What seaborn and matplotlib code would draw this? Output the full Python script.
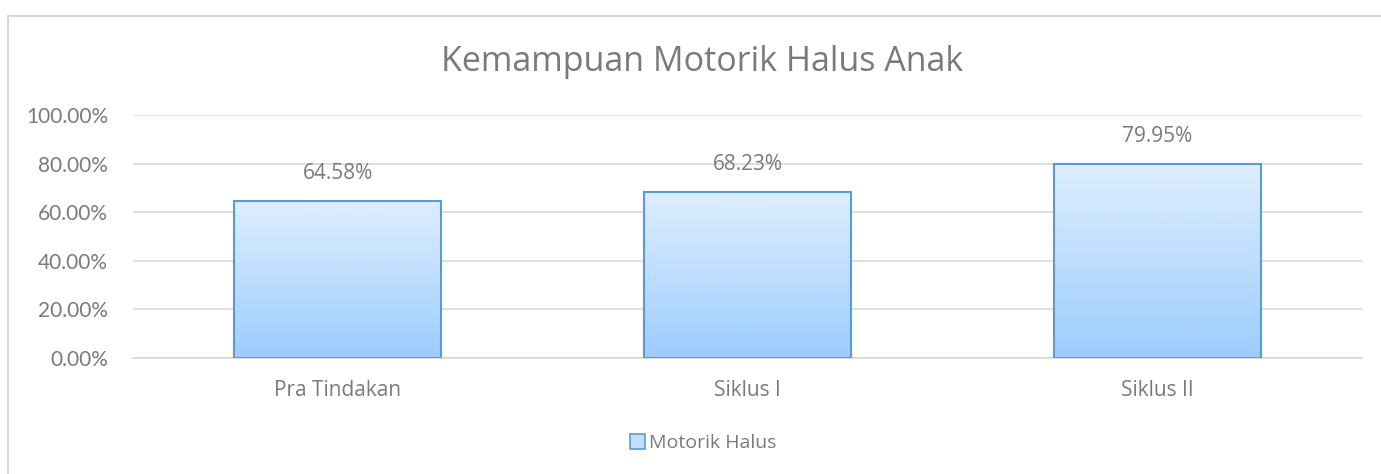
import matplotlib
matplotlib.use('Agg')
import matplotlib.pyplot as plt
import seaborn as sns
import numpy as np
import pandas as pd
from matplotlib.colors import LinearSegmentedColormap
from matplotlib.lines import Line2D
from matplotlib.patches import Rectangle

categories = ['Pra Tindakan', 'Siklus I', 'Siklus II']
values = [0.6458, 0.6823, 0.7995]
series_name = 'Motorik Halus'
title = 'Kemampuan Motorik Halus Anak'

sns.set_style('white')
plt.rcParams['font.family'] = ['Open Sans', 'DejaVu Sans']

grey = '#7a7a7a'
grid_col = '#d9d9d9'
edge_col = '#5b9bd5'
grad = LinearSegmentedColormap.from_list('g', ['#9dcdfe', '#deeefe'])

fig = plt.figure(figsize=(13.81, 4.74), dpi=100)
ax = fig.add_axes([133 / 1381, 1 - 358 / 474, (1362 - 133) / 1381, (358 - 115) / 474])

df = pd.DataFrame({'cat': categories, 'val': values})
sns.barplot(data=df, x='cat', y='val', ax=ax, width=0.505, color='#c0e0fe',
            edgecolor=edge_col, linewidth=1.5, zorder=3)

ax.set_ylim(0, 1)
ax.set_xlim(-0.5, 2.5)

# gradient fill clipped to each bar
for p in ax.patches:
    x0, y0 = p.get_x(), p.get_y()
    w, h = p.get_width(), p.get_height()
    p.set_facecolor('none')
    img = ax.imshow(np.linspace(0, 1, 256).reshape(-1, 1), cmap=grad, aspect='auto',
                    extent=[x0, x0 + w, 0, h], origin='lower', zorder=2.5)
    img.set_clip_path(p)
    ax.text(x0 + w / 2, h + 0.07, f'{h * 100:.2f}%', ha='center', va='bottom',
            color=grey, fontsize=15)

ax.set_yticks(np.arange(0, 1.01, 0.2))
ax.set_yticklabels([f'{t * 100:.2f}%' for t in np.arange(0, 1.01, 0.2)],
                   family=['Lato', 'DejaVu Sans'])
ax.yaxis.grid(True, color=grid_col, linewidth=1.2, zorder=0)
ax.set_axisbelow(True)
for s in ['top', 'right', 'left']:
    ax.spines[s].set_visible(False)
ax.spines['bottom'].set_color(grid_col)
ax.spines['bottom'].set_linewidth(1.2)
ax.tick_params(axis='y', length=0, labelsize=15, labelcolor=grey, pad=18)
ax.tick_params(axis='x', length=0, labelsize=15, labelcolor=grey, pad=16)
ax.set_xlabel('')
ax.set_ylabel('')

fig.text(702 / 1381, 1 - 62 / 474, title, ha='center', va='center', fontsize=24.5, color=grey)

handle = Rectangle((0, 0), 1, 1, facecolor='#c0e0fe', edgecolor=edge_col, linewidth=1.2)
fig.legend([handle], [series_name], loc='center', bbox_to_anchor=(703 / 1381, 1 - 443 / 474),
           frameon=False, fontsize=14, labelcolor=grey, handlelength=0.8, handleheight=0.8,
           handletextpad=0.2)

# chart area border (left and top visible)
fig.add_artist(Line2D([8 / 1381, 8 / 1381], [0, 1 - 16 / 474], transform=fig.transFigure,
                      color=grid_col, linewidth=1.5))
fig.add_artist(Line2D([8 / 1381, 1], [1 - 16 / 474, 1 - 16 / 474], transform=fig.transFigure,
                      color=grid_col, linewidth=1.5))

fig.savefig('out.png', dpi=100)
